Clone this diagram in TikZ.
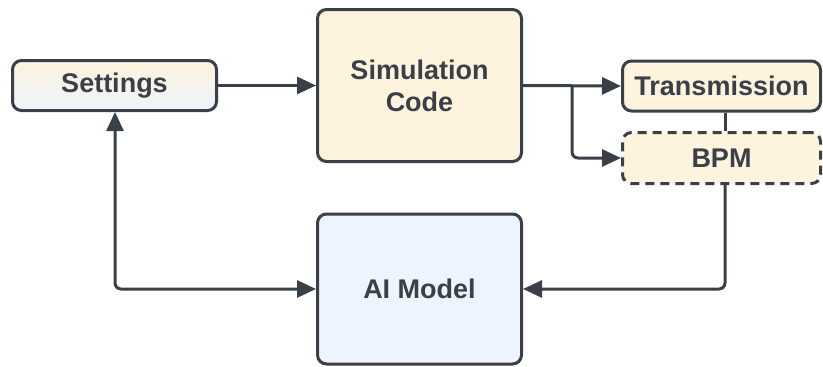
\documentclass[tikz,border=0pt]{standalone}
\usepackage{fontspec}
\setmainfont{Liberation Sans}
\usetikzlibrary{arrows.meta}
\definecolor{ink}{HTML}{3A3F48}
\definecolor{cream}{HTML}{FEF3DC}
\definecolor{paleblue}{HTML}{EDF4FD}
\tikzset{
  box/.style={draw=ink, line width=3pt, rounded corners=9pt, inner sep=0pt,
    font=\fontsize{27}{32}\selectfont\bfseries, text=ink, align=center},
  tip/.tip={Triangle[length=19pt,width=17pt]},
  link/.style={draw=ink, line width=3pt, rounded corners=6pt, -tip},
  plain/.style={draw=ink, line width=3pt}
}
\begin{document}
\begin{tikzpicture}[x=1pt,y=-1pt]
\useasboundingbox (0,0) rectangle (823,367);
% blocks
\node[box, top color=cream, bottom color=paleblue, minimum width=204pt, minimum height=50pt]
  (settings) at (114.5,85.5) {Settings};
\node[box, fill=cream, minimum width=204pt, minimum height=152pt]
  (sim) at (419.5,85.5) {Simulation\\Code};
\node[box, fill=cream, minimum width=198pt, minimum height=50pt]
  (trans) at (721.5,86) {Transmission};
\node[box, fill=cream, dashed, dash pattern=on 9pt off 6pt, minimum width=198pt, minimum height=51pt]
  (bpm) at (721.5,158) {BPM};
\node[box, fill=paleblue, minimum width=204pt, minimum height=150pt]
  (ai) at (419.5,289) {AI Model};
% turning points
\coordinate (fork) at (572,85.5);
\coordinate (rdown) at (725,290);
\coordinate (ldown) at (115,290);
% connectors
\draw[link] (settings.east) -- (sim.west);
\draw[link] (sim.east) -- (trans.west);
\draw[link] (fork) |- (bpm.west);
\draw[plain] (trans.south -| rdown) -- (bpm.north -| rdown);
\draw[link] (bpm.south -| rdown) |- (ai.east);
\draw[link, tip-tip] (ai.west) -| (settings.south -| ldown);
\end{tikzpicture}
\end{document}
